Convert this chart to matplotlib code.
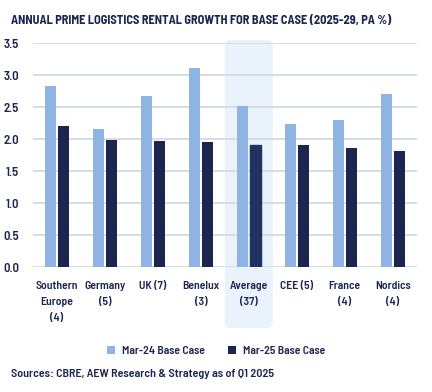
import numpy as np
import matplotlib.pyplot as plt
from matplotlib.patches import FancyBboxPatch

# Data
categories = ['Southern\nEurope\n(4)', 'Germany\n(5)', 'UK (7)', 'Benelux\n(3)',
              'Average\n(37)', 'CEE (5)', 'France\n(4)', 'Nordics\n(4)']
mar24 = [2.83, 2.16, 2.68, 3.11, 2.52, 2.24, 2.30, 2.71]
mar25 = [2.21, 1.99, 1.97, 1.96, 1.91, 1.91, 1.86, 1.82]
series_names = ['Mar-24 Base Case', 'Mar-25 Base Case']
highlight = 'Average\n(37)'

navy = '#1B2550'
light = '#8DB4E2'
plt.rcParams['font.family'] = ['Barlow Semi Condensed', 'DejaVu Sans']

fig = plt.figure(figsize=(4.32, 3.92), dpi=100)
ax = fig.add_axes([0.0764, 0.318, 0.8882, 0.5715])

x = np.arange(len(categories))
w = 0.23
b1 = ax.bar(x - 0.135, mar24, w, color=light, zorder=2, label=series_names[0])
b2 = ax.bar(x + 0.135, mar25, w, color=navy, zorder=2, label=series_names[1])
hi = categories.index(highlight)
b2.patches[hi].set_color('#1F3260')

# shaded highlight behind the average column
box = FancyBboxPatch((hi - 0.5, -0.95), 1.0, 4.5,
                     boxstyle='round,pad=0,rounding_size=0.12',
                     mutation_aspect=0.75, facecolor='#EAF2FB',
                     edgecolor='none', zorder=0, clip_on=False)
ax.add_patch(box)

ax.set_xlim(-0.5, len(categories) - 0.5)
ax.set_ylim(0, 3.5)
ax.set_yticks(np.arange(0, 3.51, 0.5))
ax.set_yticklabels([f'{v:.1f}' for v in np.arange(0, 3.51, 0.5)])
ax.set_axisbelow(True)
ax.yaxis.grid(True, color='#D3DAE5', linewidth=1.3)
for s in ax.spines.values():
    s.set_visible(False)
ax.tick_params(axis='both', length=0, colors=navy, labelsize=8.4)
ax.tick_params(axis='y', pad=10, labelsize=9.2)
ax.tick_params(axis='x', pad=10)
ax.set_xticks(x)
ax.set_xticklabels(categories, linespacing=1.72)
for t in ax.get_yticklabels() + ax.get_xticklabels():
    t.set_fontweight('semibold')

fig.text(0.025, 0.948, 'ANNUAL PRIME LOGISTICS RENTAL GROWTH FOR BASE CASE (2025-29, PA %)',
         color=navy, fontsize=8.9, fontweight='bold', va='center')

leg = fig.legend(handles=[b1, b2], labels=series_names, loc='center',
                 bbox_to_anchor=(0.5, 0.104), ncol=2, frameon=False,
                 fontsize=8.4, labelcolor=navy, handlelength=0.7, handleheight=0.7,
                 columnspacing=2.0, handletextpad=0.6)
for t in leg.get_texts():
    t.set_fontweight('semibold')

fig.text(0.025, 0.046, 'Sources: CBRE, AEW Research & Strategy as of Q1 2025',
         color=navy, fontsize=8.7, fontweight='semibold', va='center')

fig.savefig('out.png', dpi=100)
